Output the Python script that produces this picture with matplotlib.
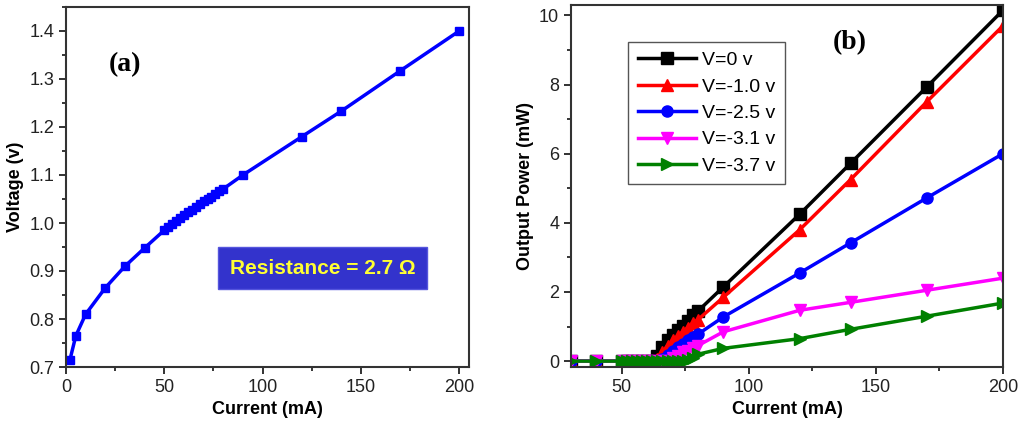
import numpy as np
import matplotlib
matplotlib.use('Agg')
import matplotlib.pyplot as plt
from matplotlib.ticker import MultipleLocator

matplotlib.rc('font', family='Liberation Sans', size=12)

# (a) I-V curve
iv_current = [2, 5, 10, 20, 30, 40,
              50, 52, 54, 56, 58, 60, 62, 64, 66, 68, 70, 72, 74, 76, 78, 80,
              90, 120, 140, 170, 200]
iv_voltage = [0.715, 0.765, 0.81, 0.865, 0.91, 0.948,
              0.985, 0.992, 0.998, 1.004, 1.010, 1.016, 1.022, 1.028, 1.034,
              1.040, 1.045, 1.050, 1.055, 1.060, 1.066, 1.071,
              1.10, 1.18, 1.233, 1.317, 1.40]

# (b) L-I curves at several bias voltages
li_current = [30, 40, 50, 52, 54, 56, 58, 60, 62, 64, 66, 68, 70, 72, 74,
              76, 78, 80, 90, 120, 140, 170, 200]
p_0v = [0, 0, 0, 0, 0, 0, 0, 0, 0, 0.15, 0.40, 0.60, 0.75, 0.90, 1.03,
        1.17, 1.32, 1.45, 2.15, 4.25, 5.72, 7.93, 10.15]
p_1v = [0, 0, 0, 0, 0, 0, 0, 0, 0, 0.05, 0.25, 0.45, 0.60, 0.72, 0.85,
        0.97, 1.10, 1.20, 1.85, 3.80, 5.25, 7.50, 9.70]
p_25v = [0, 0, 0, 0, 0, 0, 0, 0, 0, 0, 0.05, 0.18, 0.30, 0.40, 0.50,
         0.60, 0.70, 0.78, 1.28, 2.55, 3.42, 4.72, 6.00]
p_31v = [0, 0, 0, 0, 0, 0, 0, 0, 0, 0, 0, 0, 0.08, 0.15, 0.25,
         0.30, 0.38, 0.45, 0.85, 1.47, 1.70, 2.05, 2.40]
p_37v = [0, 0, 0, 0, 0, 0, 0, 0, 0, 0, 0, 0, 0, 0, 0,
         0.03, 0.10, 0.20, 0.37, 0.65, 0.92, 1.30, 1.68]

series = [('V=0 v', p_0v, 'black', 's'),
          ('V=-1.0 v', p_1v, 'red', '^'),
          ('V=-2.5 v', p_25v, 'blue', 'o'),
          ('V=-3.1 v', p_31v, 'magenta', 'v'),
          ('V=-3.7 v', p_37v, 'green', '>')]

W, H = 1022, 436
fig = plt.figure(figsize=(W / 100, H / 100), dpi=100)
ax1 = fig.add_axes([66 / W, (H - 367) / H, 403 / W, 360 / H])
ax2 = fig.add_axes([571 / W, (H - 367) / H, 432 / W, 362 / H])

for ax in (ax1, ax2):
    for sp in ax.spines.values():
        sp.set_linewidth(1.5)
        sp.set_color('#333333')
    ax.tick_params(which='major', direction='out', length=5, width=1.3,
                   labelsize=13, top=False, right=False, colors='#222222')
    ax.tick_params(which='minor', direction='out', length=3, width=1.1)

# panel (a)
ax1.plot(iv_current, iv_voltage, color='#0000ff', lw=2.5, marker='s',
         markersize=5.5)
ax1.set_xlim(0, 205)
ax1.set_ylim(0.7, 1.45)
ax1.xaxis.set_major_locator(MultipleLocator(50))
ax1.xaxis.set_minor_locator(MultipleLocator(25))
ax1.yaxis.set_major_locator(MultipleLocator(0.1))
ax1.yaxis.set_minor_locator(MultipleLocator(0.05))
ax1.yaxis.set_major_formatter(matplotlib.ticker.FormatStrFormatter('%.1f'))
ax1.set_xlabel('Current (mA)', fontweight='bold', fontsize=13)
ax1.set_ylabel('Voltage (v)', fontweight='bold', fontsize=13)
ax1.text(22, 1.33, '(a)', family='Liberation Serif', fontweight='bold',
         fontsize=20, va='center')
ax1.text(130.6, 0.906, 'Resistance = 2.7 \u03a9', color='#ffff33',
         fontweight='bold', fontsize=15, ha='center', va='center',
         bbox=dict(boxstyle='square,pad=0.55', fc='#3333cc', ec='#5555dd',
                   lw=1))

# panel (b)
for label, p, c, m in series:
    ax2.plot(li_current, p, color=c, lw=2.5, marker=m, markersize=8,
             label=label)
ax2.set_xlim(30, 200)
ax2.set_ylim(-0.17, 10.3)
ax2.xaxis.set_major_locator(MultipleLocator(50))
ax2.xaxis.set_minor_locator(MultipleLocator(25))
ax2.yaxis.set_major_locator(MultipleLocator(2))
ax2.yaxis.set_minor_locator(MultipleLocator(1))
ax2.set_xlabel('Current (mA)', fontweight='bold', fontsize=13)
ax2.set_ylabel('Output Power (mW)', fontweight='bold', fontsize=13)
ax2.text(133, 9.2, '(b)', family='Liberation Serif', fontweight='bold',
         fontsize=20, ha='left', va='center')
leg = ax2.legend(loc='upper left', bbox_to_anchor=(0.132, 0.898),
                 borderaxespad=0, fontsize=14, handlelength=3.0,
                 fancybox=False, edgecolor='#555555', framealpha=1,
                 borderpad=0.5, labelspacing=0.45, handletextpad=0.3)
leg.get_frame().set_linewidth(1.0)

plt.savefig('out.png', dpi=100)
